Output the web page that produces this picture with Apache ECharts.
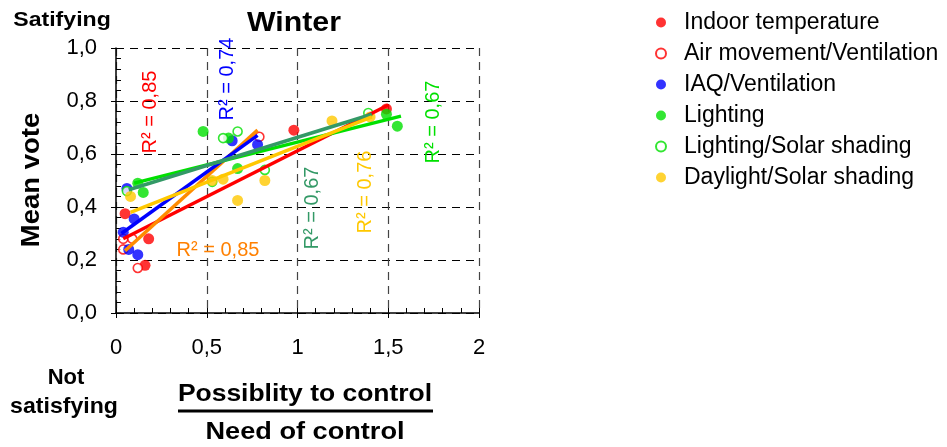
<!DOCTYPE html>
<html>
<head>
<meta charset="utf-8">
<script src="https://cdn.jsdelivr.net/npm/echarts@6/dist/echarts.min.js"></script>
<style>
  html, body { margin: 0; padding: 0; background: #fff; }
  #chart { width: 947px; height: 447px; }
</style>
</head>
<body>
<div id="chart"></div>
<script>
// points: [ratio possibility/need, mean vote]
const indoorTemp = [[0.05, 0.375], [0.18, 0.28], [0.16, 0.18], [0.98, 0.69], [1.49, 0.77]];
const airMovement = [[0.04, 0.28], [0.09, 0.28], [0.04, 0.24], [0.12, 0.17], [0.79, 0.665]];
const iaqVent = [[0.06, 0.47], [0.10, 0.355], [0.04, 0.305], [0.07, 0.24], [0.12, 0.22], [0.64, 0.65], [0.78, 0.635]];
const lighting = [[0.12, 0.49], [0.15, 0.455], [0.48, 0.685], [0.62, 0.66], [0.67, 0.545], [1.49, 0.75], [1.55, 0.705]];
const lightingShading = [[0.06, 0.46], [0.53, 0.495], [0.59, 0.66], [0.67, 0.685], [0.82, 0.54], [1.39, 0.755]];
const daylightShading = [[0.08, 0.44], [0.53, 0.50], [0.59, 0.505], [0.67, 0.425], [0.82, 0.50], [1.19, 0.725], [1.40, 0.74]];

// trend lines (start / end)
const indoorTempFit = [[0.04, 0.28], [1.50, 0.785]];
const airMovementFit = [[0.05, 0.235], [0.78, 0.69]];
const iaqVentFit = [[0.03, 0.30], [0.78, 0.67]];
const lightingFit = [[0.10, 0.49], [1.57, 0.743]];
const lightingShadingFit = [[0.07, 0.465], [1.41, 0.75]];
const daylightShadingFit = [[0.08, 0.38], [1.41, 0.74]];

const xTicks = [0, 0.5, 1, 1.5, 2];
const yTicks = [0, 0.2, 0.4, 0.6, 0.8, 1.0];

const chart = echarts.init(document.getElementById('chart'));
const FONT = 'Liberation Sans, Arial, sans-serif';

function dots(name, data, color, open) {
  return {
    name: name,
    type: 'scatter',
    data: data,
    symbol: 'circle',
    symbolSize: open ? 9 : 11,
    itemStyle: open
      ? { color: '#fff', borderColor: color, borderWidth: 1.6 }
      : { color: color },
    z: 3
  };
}

function fit(name, data, color) {
  return {
    name: name,
    type: 'line',
    data: data,
    symbol: 'none',
    lineStyle: { color: color, width: 3.5 },
    silent: true,
    z: 4
  };
}

// R² text placed at its spot on the plot
function r2(text, x, y, color, vertical) {
  return {
    type: 'text',
    x: x,
    y: y,
    rotation: vertical ? Math.PI / 2 : 0,
    style: {
      text: text,
      fill: color,
      font: '20px ' + FONT,
      align: 'center',
      verticalAlign: 'middle'
    },
    z: 10
  };
}

function label(text, x, y, size, sx, rot) {
  return {
    type: 'text', x: x, y: y, scaleX: sx || 1, rotation: rot || 0,
    style: { text: text, fill: '#000', font: 'bold ' + size + 'px ' + FONT, align: 'center', verticalAlign: 'middle' }
  };
}

const option = {
  animation: false,
  grid: { left: 116, right: 468, top: 48, bottom: 134 },
  xAxis: [
    {
      type: 'value',
      min: 0, max: 2, interval: 0.5,
      axisLine: { onZero: false, lineStyle: { color: '#000', width: 1.5 } },
      axisTick: { length: 5, lineStyle: { color: '#000' } },
      axisLabel: {
        color: '#000', fontSize: 22, fontFamily: FONT, margin: 24,
        formatter: v => String(v).replace('.', ',')
      },
      splitLine: { show: true, lineStyle: { color: '#444', type: [8, 6], width: 1.2 } }
    },
    {
      type: 'value',
      position: 'bottom',
      min: 0, max: 2, interval: 0.1,
      axisLine: { show: false },
      axisTick: { inside: true, length: 5, lineStyle: { color: '#000' } },
      axisLabel: { show: false },
      splitLine: { show: false }
    }
  ],
  yAxis: [
    {
      type: 'value',
      min: 0, max: 1, interval: 0.2,
      axisLine: { onZero: false, lineStyle: { color: '#000', width: 1.5 } },
      axisTick: { length: 5, lineStyle: { color: '#000' } },
      axisLabel: {
        color: '#000', fontSize: 22, fontFamily: FONT, margin: 19,
        formatter: v => v.toFixed(1).replace('.', ',')
      },
      splitLine: { show: true, lineStyle: { color: '#000', type: [8, 6], width: 1 } }
    },
    {
      type: 'value',
      position: 'left',
      min: 0, max: 1, interval: 0.04,
      axisLine: { show: false },
      axisTick: { inside: true, length: 5, lineStyle: { color: '#000' } },
      axisLabel: { show: false },
      splitLine: { show: false }
    }
  ],
  legend: {
    orient: 'vertical',
    left: 650,
    top: 6,
    itemWidth: 10,
    itemHeight: 10,
    itemGap: 8,
    icon: 'circle',
    textStyle: { color: '#000', fontSize: 23, fontFamily: FONT, padding: [0, 0, 0, 13] },
    data: ['Indoor temperature', 'Air movement/Ventilation', 'IAQ/Ventilation',
           'Lighting', 'Lighting/Solar shading', 'Daylight/Solar shading']
  },
  series: [
    dots('Indoor temperature', indoorTemp, '#ff0000', false),
    dots('Air movement/Ventilation', airMovement, '#ff0000', true),
    dots('IAQ/Ventilation', iaqVent, '#0000ff', false),
    dots('Lighting', lighting, '#00e000', false),
    dots('Lighting/Solar shading', lightingShading, '#00e000', true),
    dots('Daylight/Solar shading', daylightShading, '#ffc800', false),
    fit('fit indoor', indoorTempFit, '#ff0000'),
    fit('fit air', airMovementFit, '#ff8c00'),
    fit('fit iaq', iaqVentFit, '#0000ff'),
    fit('fit lighting', lightingFit, '#00e000'),
    fit('fit lighting shading', lightingShadingFit, '#339966'),
    fit('fit daylight', daylightShadingFit, '#ffc800')
  ],
  graphic: [
    label('Winter', 294, 23, 28, 1.08),
    label('Satifying', 62, 20, 21, 1.1),
    label('Mean vote', 32, 180, 25, 1.1, Math.PI / 2),
    label('Not', 66, 378, 22),
    label('satisfying', 64, 407, 22, 1.05),
    label('Possiblity to control', 305, 395, 23, 1.15),
    { type: 'line', shape: { x1: 178, y1: 411, x2: 433, y2: 411 }, style: { stroke: '#000', lineWidth: 3 } },
    label('Need of control', 305, 433, 23, 1.18),
    r2('R² = 0,85', 150, 112, '#ff0000', true),
    r2('R² = 0,74', 227, 79, '#0000ff', true),
    r2('R² = 0,85', 218, 250, '#ff8000', false),
    r2('R² = 0,67', 312, 208, '#339966', true),
    r2('R² = 0,76', 365, 192, '#ffc800', true),
    r2('R² = 0,67', 433, 122, '#00e000', true)
  ]
};

chart.setOption(option);
</script>
</body>
</html>
